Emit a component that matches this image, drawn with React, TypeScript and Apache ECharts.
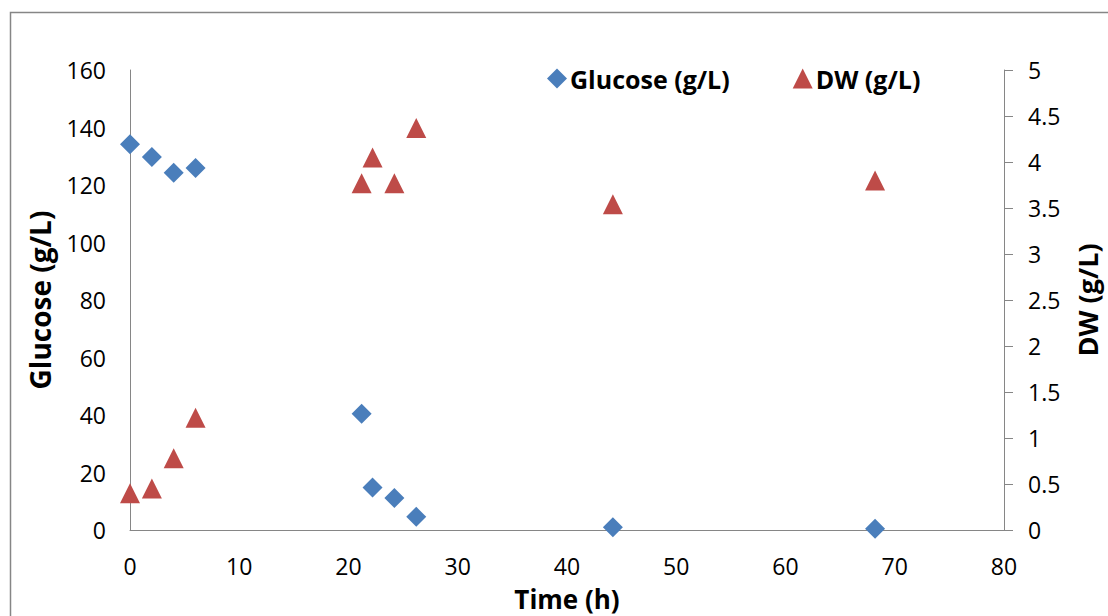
import React, { useEffect, useRef } from "react";
import * as echarts from "echarts";

const timeGlucose = [0, 2, 4, 6, 21.2, 22.2, 24.2, 26.2, 44.2, 68.2];
const glucose = [134.2, 129.7, 124.3, 125.9, 40.4, 14.8, 11.1, 4.6, 1.0, 0.4];
const timeDW = [0, 2, 4, 6, 21.2, 22.2, 24.2, 26.2, 44.2, 68.2];
const dw = [0.4, 0.45, 0.78, 1.22, 3.77, 4.05, 3.77, 4.37, 3.54, 3.8];

const FONT = "'Open Sans', sans-serif";

export default function App() {
  const ref = useRef<HTMLDivElement>(null);
  useEffect(() => {
    if (!ref.current) return;
    const chart = echarts.init(ref.current, undefined, { renderer: "svg" });
    const axisLine = { show: true, lineStyle: { color: "#868686", width: 1 } };
    chart.setOption({
      animation: false,
      backgroundColor: "#fff",
      textStyle: { fontFamily: FONT },
      graphic: [
        {
          type: "rect",
          shape: { x: 10.5, y: 12.5, width: 1120, height: 640 },
          style: { fill: "none", stroke: "#868686", lineWidth: 1.5 },
          silent: true,
        },
      ],
      grid: { left: 130, right: 104, top: 70, bottom: 86, containLabel: false, outerBoundsMode: "none" },
      legend: {
        left: 542,
        top: 61,
        itemWidth: 20,
        itemHeight: 20,
        itemGap: 63,
        textStyle: { fontFamily: FONT, fontWeight: "bold", fontSize: 25, color: "#000", padding: [0, 0, 0, -2] },
        data: [
          { name: "Glucose (g/L)", icon: "diamond" },
          { name: "DW (g/L)", icon: "triangle" },
        ],
      },
      xAxis: {
        type: "value",
        min: 0,
        max: 80,
        interval: 10,
        axisLine,
        axisTick: { show: false },
        splitLine: { show: false },
        axisLabel: { fontFamily: FONT, fontSize: 23, color: "#000", margin: 24 },
        name: "Time (h)",
        nameLocation: "middle",
        nameGap: 56,
        nameTextStyle: { fontFamily: FONT, fontWeight: "bold", fontSize: 26, lineHeight: 26, color: "#000" },
      },
      yAxis: [
        {
          type: "value",
          min: 0,
          max: 160,
          interval: 20,
          axisLine,
          axisTick: { show: false },
          splitLine: { show: false },
          axisLabel: { fontFamily: FONT, fontSize: 23, color: "#000", margin: 24 },
          name: "Glucose (g/L)",
          nameLocation: "middle",
          nameGap: 76,
          nameRotate: 90,
          nameTextStyle: { fontFamily: FONT, fontWeight: "bold", fontSize: 28, color: "#000" },
        },
        {
          type: "value",
          min: 0,
          max: 5,
          interval: 0.5,
          position: "right",
          axisLine,
          axisTick: { show: true, inside: false, length: 9, lineStyle: { color: "#868686" } },
          splitLine: { show: false },
          axisLabel: { fontFamily: FONT, fontSize: 23, color: "#000", margin: 24 },
          name: "DW (g/L)",
          nameLocation: "middle",
          nameGap: 70,
          nameRotate: 90,
          nameTextStyle: { fontFamily: FONT, fontWeight: "bold", fontSize: 27, color: "#000" },
        },
      ],
      series: [
        {
          name: "Glucose (g/L)",
          type: "scatter",
          yAxisIndex: 0,
          symbol: "diamond",
          symbolSize: 20,
          itemStyle: { color: "#4A7EBB", opacity: 1 },
          data: timeGlucose.map((t, i) => [t, glucose[i]]),
        },
        {
          name: "DW (g/L)",
          type: "scatter",
          yAxisIndex: 1,
          symbol: "triangle",
          symbolSize: 20,
          itemStyle: { color: "#BE4B48", opacity: 1 },
          data: timeDW.map((t, i) => [t, dw[i]]),
        },
      ],
    });
    return () => chart.dispose();
  }, []);
  return (
    <div
      ref={ref}
      style={{ position: "fixed", left: 0, top: 0, width: 1108, height: 616 }}
    />
  );
}
